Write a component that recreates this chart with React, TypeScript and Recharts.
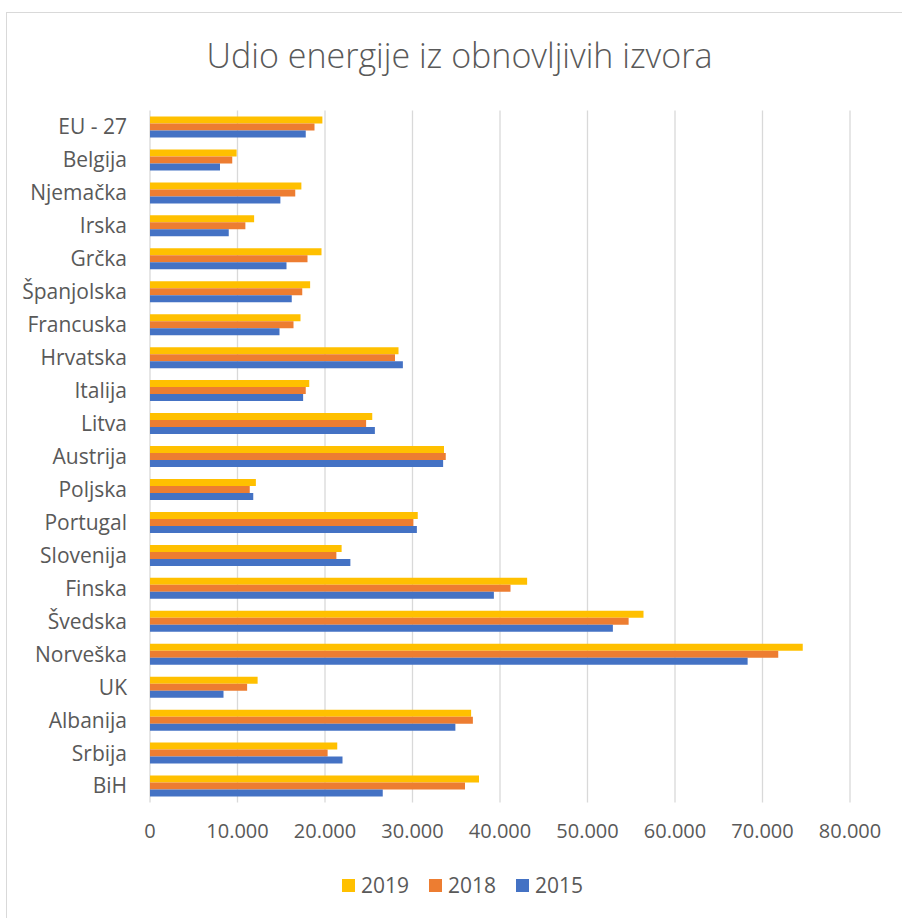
import { BarChart, Bar, XAxis, YAxis, CartesianGrid } from "recharts";

const categories = [
  "EU - 27",
  "Belgija",
  "Njemačka",
  "Irska",
  "Grčka",
  "Španjolska",
  "Francuska",
  "Hrvatska",
  "Italija",
  "Litva",
  "Austrija",
  "Poljska",
  "Portugal",
  "Slovenija",
  "Finska",
  "Švedska",
  "Norveška",
  "UK",
  "Albanija",
  "Srbija",
  "BiH",
];

const values2019 = [
  19.7, 9.9, 17.3, 11.9, 19.6, 18.3, 17.2, 28.4, 18.2, 25.4, 33.6, 12.1, 30.6,
  21.9, 43.1, 56.4, 74.6, 12.3, 36.7, 21.4, 37.6,
];
const values2018 = [
  18.8, 9.4, 16.6, 10.9, 18.0, 17.4, 16.4, 28.0, 17.8, 24.7, 33.8, 11.4, 30.1,
  21.3, 41.2, 54.7, 71.8, 11.1, 36.9, 20.3, 36.0,
];
const values2015 = [
  17.8, 8.0, 14.9, 9.0, 15.6, 16.2, 14.8, 28.9, 17.5, 25.7, 33.5, 11.8, 30.5,
  22.9, 39.3, 52.9, 68.3, 8.4, 34.9, 22.0, 26.6,
];

const xTicks = [0, 10, 20, 30, 40, 50, 60, 70, 80];

const series = [
  { key: "y2019", name: "2019", color: "#FFC000" },
  { key: "y2018", name: "2018", color: "#ED7D31" },
  { key: "y2015", name: "2015", color: "#4472C4" },
];

const textColor = "#595959";
const font = "'Open Sans', sans-serif";

const formatTick = (v: number) => (v === 0 ? "0" : v.toFixed(3));

export default function App() {
  const data = categories.map((name, i) => ({
    name,
    y2019: values2019[i],
    y2018: values2018[i],
    y2015: values2015[i],
  }));

  return (
    <div
      style={{
        position: "absolute",
        left: 0,
        top: 0,
        width: 902,
        height: 918,
        background: "#fff",
        fontFamily: font,
        overflow: "hidden",
      }}
    >
      <div
        style={{
          position: "absolute",
          left: 6,
          top: 12,
          width: 920,
          height: 940,
          borderLeft: "1px solid #d9d9d9",
          borderTop: "1px solid #d9d9d9",
        }}
      />
      <div
        style={{
          position: "absolute",
          left: 0,
          top: 38,
          width: 919,
          textAlign: "center",
          fontSize: 34,
          lineHeight: "34px",
          fontWeight: 300,
          color: textColor,
        }}
      >
        Udio energije iz obnovljivih izvora
      </div>
      <div style={{ position: "absolute", left: 0, top: 0 }}>
        <BarChart
          width={902}
          height={918}
          data={data}
          layout="vertical"
          margin={{ top: 110.5, right: 52, left: 0, bottom: 75.5 }}
          barCategoryGap="20%"
          barGap={0}
        >
          <CartesianGrid
            horizontal={false}
            stroke="#d9d9d9"
            strokeWidth={1.3}
          />
          <XAxis
            type="number"
            domain={[0, 80]}
            ticks={xTicks}
            tickFormatter={formatTick}
            axisLine={false}
            tickLine={false}
            tickSize={0}
            tickMargin={21}
            height={40}
            tick={{ fill: textColor, fontSize: 20, fontFamily: font }}
          />
          <YAxis
            type="category"
            dataKey="name"
            width={150}
            interval={0}
            axisLine={false}
            tickLine={false}
            tickSize={0}
            tickMargin={23}
            tick={{ fill: textColor, fontSize: 21, fontFamily: font }}
          />
          {series.map((s) => (
            <Bar
              key={s.key}
              dataKey={s.key}
              name={s.name}
              fill={s.color}
              barSize={7}
              isAnimationActive={false}
            />
          ))}
        </BarChart>
      </div>
      <div
        style={{
          position: "absolute",
          left: 0,
          top: 873,
          width: 925,
          display: "flex",
          justifyContent: "center",
          alignItems: "center",
          gap: 20,
          fontSize: 21,
          lineHeight: "24px",
          color: textColor,
        }}
      >
        {series.map((s) => (
          <div
            key={s.key}
            style={{ display: "flex", alignItems: "center", gap: 6 }}
          >
            <span
              style={{
                display: "inline-block",
                width: 13,
                height: 13,
                background: s.color,
              }}
            />
            <span>{s.name}</span>
          </div>
        ))}
      </div>
    </div>
  );
}
